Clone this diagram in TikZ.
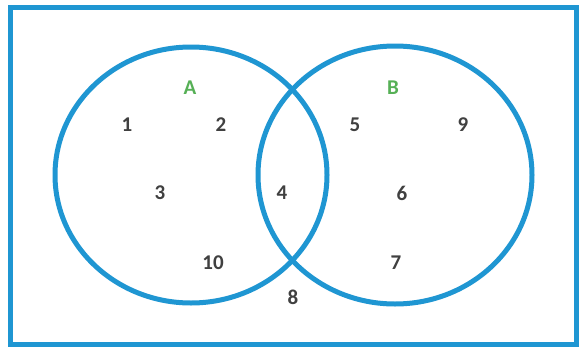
\documentclass[tikz,border=0pt]{standalone}
\usepackage{fontspec}
\setmainfont{Carlito}
\usepackage{tikz}
\definecolor{vennblue}{RGB}{31,150,210}
\definecolor{venngreen}{RGB}{86,176,86}
\definecolor{venngray}{RGB}{64,64,64}
\tikzset{
  elem/.style={text=venngray,font=\fontsize{21}{21}\selectfont\bfseries,inner sep=0pt},
  setname/.style={text=venngreen,font=\fontsize{21}{21}\selectfont\bfseries,inner sep=0pt},
  ring/.style={draw=vennblue,line width=5pt}
}
\begin{document}
\begin{tikzpicture}[x=1pt,y=-1pt]
\useasboundingbox (0,0) rectangle (581,351);
% objects at depth 100:
\path[fill=white] (0,0) rectangle (581,351);
\draw[ring] (10,7) rectangle (576,344);
% objects at depth 75:
\draw[ring] (191,175) ellipse [x radius=136, y radius=128];
\draw[ring] (395,175) ellipse [x radius=137, y radius=129];
% objects at depth 50:
\node[setname] (setA) at (190,88) {A};
\node[setname] (setB) at (393,88) {B};
\node[elem] (n1) at (127,125) {1};
\node[elem] (n2) at (221,125) {2};
\node[elem] (n5) at (355,125) {5};
\node[elem] (n9) at (463,125) {9};
\node[elem] (n3) at (160,193) {3};
\node[elem] (n4) at (282,193) {4};
\node[elem] (n6) at (402,193) {6};
\node[elem] (n10) at (213,263) {10};
\node[elem] (n7) at (396,263) {7};
\node[elem] (n8) at (293,297) {8};
\end{tikzpicture}
\end{document}
